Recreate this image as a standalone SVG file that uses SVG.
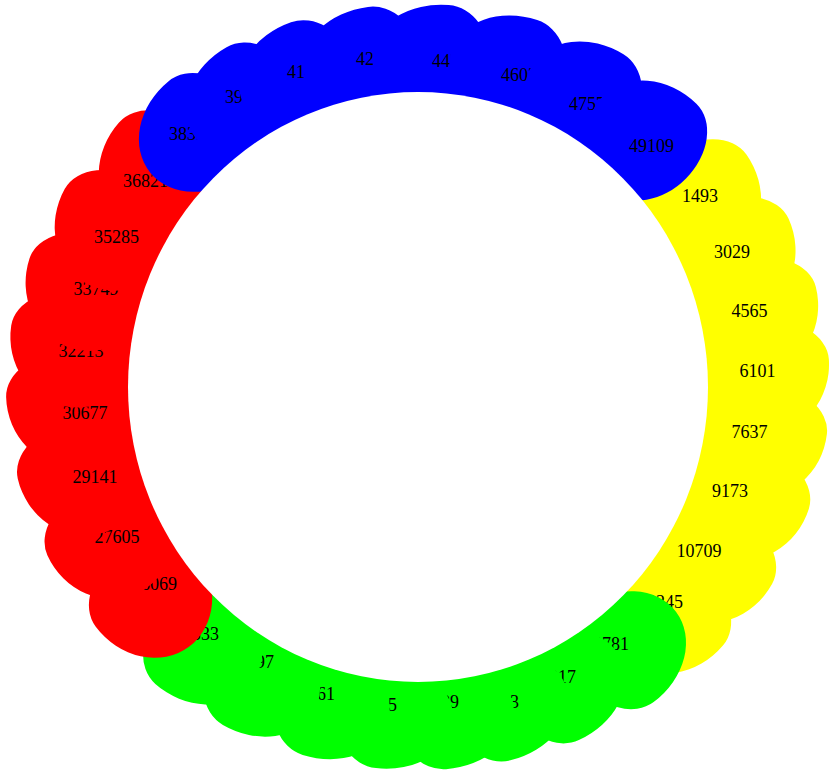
<svg xmlns="http://www.w3.org/2000/svg" width="834" height="775" viewBox="0 0 834 775">
<style>
.y{fill:#ffff00}.g{fill:#00ff00}.r{fill:#ff0000}.b{fill:#0000ff}
text{font-family:"Liberation Serif","Times New Roman",serif;font-size:18px;fill:#000;text-anchor:middle}
</style>
<rect width="834" height="775" fill="#fff"/>
<g id="nodes">
<g id="n1493"><path class="y" transform="translate(418 387) rotate(-35.3)" d="M402.4 0A63.2 72 0 0 1 339.2 72A63.2 72 0 0 1 276 0A63.2 45 0 0 1 339.2 -45A63.2 45 0 0 1 402.4 0Z"/><text x="700" y="202">1493</text></g>
<g id="n3029"><path class="y" transform="translate(418 387) rotate(-24.45)" d="M407 0A65.5 72 0 0 1 341.5 72A65.5 72 0 0 1 276 0A65.5 45 0 0 1 341.5 -45A65.5 45 0 0 1 407 0Z"/><text x="732" y="258">3029</text></g>
<g id="n4565"><path class="y" transform="translate(418 387) rotate(-14.1)" d="M410.2 0A67.1 72 0 0 1 343.1 72A67.1 72 0 0 1 276 0A67.1 45 0 0 1 343.1 -45A67.1 45 0 0 1 410.2 0Z"/><text x="749.5" y="317">4565</text></g>
<g id="n6101"><path class="y" transform="translate(418 387) rotate(-3.86)" d="M411.8 0A67.9 72 0 0 1 343.9 72A67.9 72 0 0 1 276 0A67.9 45 0 0 1 343.9 -45A67.9 45 0 0 1 411.8 0Z"/><text x="757.5" y="377">6101</text></g>
<g id="n7637"><path class="y" transform="translate(418 387) rotate(6.57)" d="M411.6 0A67.8 72 0 0 1 343.8 72A67.8 72 0 0 1 276 0A67.8 45 0 0 1 343.8 -45A67.8 45 0 0 1 411.6 0Z"/><text x="749.5" y="438">7637</text></g>
<g id="n9173"><path class="y" transform="translate(418 387) rotate(17.3)" d="M409.4 0A66.7 72 0 0 1 342.7 72A66.7 72 0 0 1 276 0A66.7 45 0 0 1 342.7 -45A66.7 45 0 0 1 409.4 0Z"/><text x="730" y="497">9173</text></g>
<g id="n10709"><path class="y" transform="translate(418 387) rotate(29.1)" d="M405.2 0A64.6 72 0 0 1 340.6 72A64.6 72 0 0 1 276 0A64.6 45 0 0 1 340.6 -45A64.6 45 0 0 1 405.2 0Z"/><text x="699" y="557">10709</text></g>
<g id="n12245"><path class="y" transform="translate(418 387) rotate(40.3)" d="M399.8 0A61.9 72 0 0 1 337.9 72A61.9 72 0 0 1 276 0A61.9 45 0 0 1 337.9 -45A61.9 45 0 0 1 399.8 0Z"/><text x="660.5" y="608">12245</text></g>
<g id="n13781"><path class="g" transform="translate(418 387) rotate(53.2)" d="M393.4 0A58.7 45 0 0 1 334.7 45A58.7 45 0 0 1 276 0A58.7 72 0 0 1 334.7 -72A58.7 72 0 0 1 393.4 0Z"/><text x="606.5" y="650">13781</text></g>
<g id="n15317"><path class="g" transform="translate(418 387) rotate(65.5)" d="M388 0A56 45 0 0 1 332 45A56 45 0 0 1 276 0A56 72 0 0 1 332 -72A56 72 0 0 1 388 0Z"/><text x="553.5" y="683">15317</text></g>
<g id="n16853"><path class="g" transform="translate(418 387) rotate(76.1)" d="M384.6 0A54.3 45 0 0 1 330.3 45A54.3 45 0 0 1 276 0A54.3 72 0 0 1 330.3 -72A54.3 72 0 0 1 384.6 0Z"/><text x="496.5" y="708">16853</text></g>
<g id="n18389"><path class="g" transform="translate(418 387) rotate(85.8)" d="M383.2 0A53.6 45 0 0 1 329.6 45A53.6 45 0 0 1 276 0A53.6 72 0 0 1 329.6 -72A53.6 72 0 0 1 383.2 0Z"/><text x="436.5" y="708">18389</text></g>
<g id="n19925"><path class="g" transform="translate(418 387) rotate(96.3)" d="M383.4 0A53.7 45 0 0 1 329.7 45A53.7 45 0 0 1 276 0A53.7 72 0 0 1 329.7 -72A53.7 72 0 0 1 383.4 0Z"/><text x="374.5" y="711">19925</text></g>
<g id="n21461"><path class="g" transform="translate(418 387) rotate(107.4)" d="M385.6 0A54.8 45 0 0 1 330.8 45A54.8 45 0 0 1 276 0A54.8 72 0 0 1 330.8 -72A54.8 72 0 0 1 385.6 0Z"/><text x="312.5" y="700">21461</text></g>
<g id="n22997"><path class="g" transform="translate(418 387) rotate(120)" d="M390.2 0A57.1 45 0 0 1 333.1 45A57.1 45 0 0 1 276 0A57.1 72 0 0 1 333.1 -72A57.1 72 0 0 1 390.2 0Z"/><text x="251.5" y="668">22997</text></g>
<g id="n24533"><path class="g" transform="translate(418 387) rotate(131.5)" d="M396.4 0A60.2 45 0 0 1 336.2 45A60.2 45 0 0 1 276 0A60.2 72 0 0 1 336.2 -72A60.2 72 0 0 1 396.4 0Z"/><text x="196.5" y="640">24533</text></g>
<g id="n26069"><path class="r" transform="translate(418 387) rotate(143.4)" d="M401.6 0A62.8 45 0 0 1 338.8 45A62.8 45 0 0 1 276 0A62.8 72 0 0 1 338.8 -72A62.8 72 0 0 1 401.6 0Z"/><text x="154.5" y="590">26069</text></g>
<g id="n27605"><path class="r" transform="translate(418 387) rotate(155.6)" d="M407 0A65.5 45 0 0 1 341.5 45A65.5 45 0 0 1 276 0A65.5 72 0 0 1 341.5 -72A65.5 72 0 0 1 407 0Z"/><text x="117" y="543">27605</text></g>
<g id="n29141"><path class="r" transform="translate(418 387) rotate(167.1)" d="M410.6 0A67.3 45 0 0 1 343.3 45A67.3 45 0 0 1 276 0A67.3 72 0 0 1 343.3 -72A67.3 72 0 0 1 410.6 0Z"/><text x="95" y="483">29141</text></g>
<g id="n30677"><path class="r" transform="translate(418 387) rotate(178.6)" d="M412 0A68 45 0 0 1 344 45A68 45 0 0 1 276 0A68 72 0 0 1 344 -72A68 72 0 0 1 412 0Z"/><text x="85" y="419">30677</text></g>
<g id="n32213"><path class="r" transform="translate(418 387) rotate(188.6)" d="M411.4 0A67.7 45 0 0 1 343.7 45A67.7 45 0 0 1 276 0A67.7 72 0 0 1 343.7 -72A67.7 72 0 0 1 411.4 0Z"/><text x="81" y="357">32213</text></g>
<g id="n33749"><path class="r" transform="translate(418 387) rotate(198.3)" d="M409.2 0A66.6 45 0 0 1 342.6 45A66.6 45 0 0 1 276 0A66.6 72 0 0 1 342.6 -72A66.6 72 0 0 1 409.2 0Z"/><text x="96" y="295">33749</text></g>
<g id="n35285"><path class="r" transform="translate(418 387) rotate(209.3)" d="M405 0A64.5 45 0 0 1 340.5 45A64.5 45 0 0 1 276 0A64.5 72 0 0 1 340.5 -72A64.5 72 0 0 1 405 0Z"/><text x="116.5" y="243">35285</text></g>
<g id="n36821"><path class="r" transform="translate(418 387) rotate(221.5)" d="M399.2 0A61.6 45 0 0 1 337.6 45A61.6 45 0 0 1 276 0A61.6 72 0 0 1 337.6 -72A61.6 72 0 0 1 399.2 0Z"/><text x="145.5" y="187">36821</text></g>
<g id="n38357"><path class="b" transform="translate(418 387) rotate(230.8)" d="M394.6 0A59.3 45 0 0 1 335.3 45A59.3 45 0 0 1 276 0A59.3 72 0 0 1 335.3 -72A59.3 72 0 0 1 394.6 0Z"/><text x="191.5" y="140">38357</text></g>
<g id="n39893"><path class="b" transform="translate(418 387) rotate(240.6)" d="M390 0A57 45 0 0 1 333 45A57 45 0 0 1 276 0A57 72 0 0 1 333 -72A57 72 0 0 1 390 0Z"/><text x="247.5" y="103">39893</text></g>
<g id="n41429"><path class="b" transform="translate(418 387) rotate(250.8)" d="M386.2 0A55.1 45 0 0 1 331.1 45A55.1 45 0 0 1 276 0A55.1 72 0 0 1 331.1 -72A55.1 72 0 0 1 386.2 0Z"/><text x="309.5" y="78">41429</text></g>
<g id="n42965"><path class="b" transform="translate(418 387) rotate(262.5)" d="M383.4 0A53.7 45 0 0 1 329.7 45A53.7 45 0 0 1 276 0A53.7 72 0 0 1 329.7 -72A53.7 72 0 0 1 383.4 0Z"/><text x="378.5" y="65">42965</text></g>
<g id="n44501"><path class="b" transform="translate(418 387) rotate(274.6)" d="M383.2 0A53.6 45 0 0 1 329.6 45A53.6 45 0 0 1 276 0A53.6 72 0 0 1 329.6 -72A53.6 72 0 0 1 383.2 0Z"/><text x="454.5" y="67">44501</text></g>
<g id="n46037"><path class="b" transform="translate(418 387) rotate(288)" d="M385.8 0A54.9 45 0 0 1 330.9 45A54.9 45 0 0 1 276 0A54.9 72 0 0 1 330.9 -72A54.9 72 0 0 1 385.8 0Z"/><text x="523.5" y="81">46037</text></g>
<g id="n47573"><path class="b" transform="translate(418 387) rotate(301.7)" d="M391 0A57.5 45 0 0 1 333.5 45A57.5 45 0 0 1 276 0A57.5 72 0 0 1 333.5 -72A57.5 72 0 0 1 391 0Z"/><text x="591.5" y="110">47573</text></g>
<g id="n49109"><path class="b" transform="translate(418 387) rotate(314.5)" d="M397.2 0A60.6 45 0 0 1 336.6 45A60.6 45 0 0 1 276 0A60.6 72 0 0 1 336.6 -72A60.6 72 0 0 1 397.2 0Z"/><text x="651.5" y="152">49109</text></g>
</g>
<g id="connectors"></g>
<ellipse id="hub" cx="418" cy="387" rx="290" ry="295" fill="#fff"/>
</svg>
